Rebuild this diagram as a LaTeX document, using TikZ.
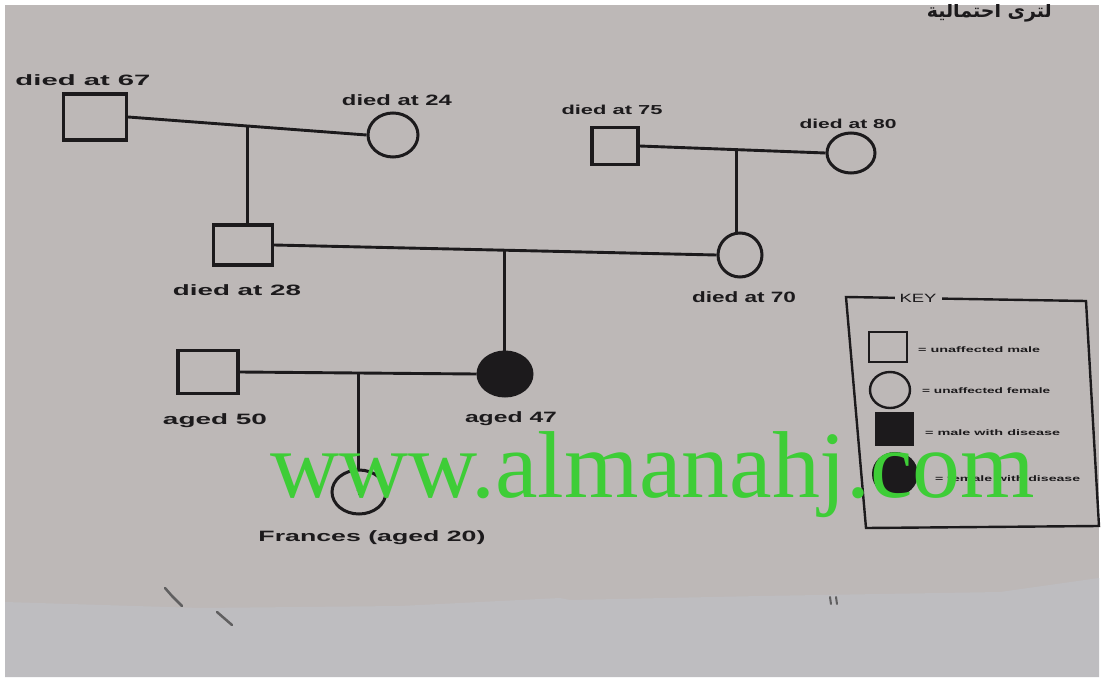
\documentclass[tikz,border=0pt]{standalone}
\usepackage{fontspec}
\setmainfont{Liberation Sans}
\newfontfamily\wmfont{Liberation Serif}
\newfontfamily\arabicfont[Script=Arabic]{DejaVu Sans}
\TeXXeTstate=1
\usetikzlibrary{calc,shapes.geometric}
\definecolor{paper}{RGB}{189,184,183}
\definecolor{paperlow}{RGB}{190,189,192}
\definecolor{ink}{RGB}{28,26,28}
\definecolor{wm}{RGB}{62,205,55}
\newcommand\lbl[2]{\resizebox{#1}{\height}{\bfseries #2}}
\begin{document}
\begin{tikzpicture}[x=1pt,y=-1pt,
  male/.style={draw=ink,line width=3.2pt,rectangle,inner sep=0pt},
  female/.style={draw=ink,line width=3pt,ellipse,inner sep=0pt},
  affected/.style={fill=ink},
  tag/.style={text=ink,inner sep=0pt,font=\fontsize{15}{18}\selectfont},
  smalltag/.style={text=ink,inner sep=0pt,font=\fontsize{13}{16}\selectfont},
  keytag/.style={text=ink,inner sep=0pt,anchor=west,font=\fontsize{8}{10}\selectfont},
  link/.style={draw=ink,line width=2.9pt}]
% background
\fill[white] (0,0) rectangle (1104,682);
\fill[paper] (5,5) rectangle (1099,677);
\fill[paperlow] (5,602) -- (200,608) -- (400,606) -- (560,598) -- (570,600) -- (760,596) -- (1000,592) -- (1099,578) -- (1099,677) -- (5,677) -- cycle;
\draw[ink!70,line width=2.5pt,line cap=round] (165,588) -- (172,596) -- (182,606);
\draw[ink!70,line width=2.5pt,line cap=round] (217,612) -- (232,625);
\draw[ink!70,line width=2pt,line cap=round] (830,597) -- (831,604) (836,597) -- (837,604);
% arabic fragment at the top
\begin{scope}
\clip (5,5) rectangle (1099,677);
\node[text=ink,anchor=east,inner sep=0pt,font=\arabicfont\bfseries\fontsize{19}{22}\selectfont] (ar) at (1052,13) {\beginR لترى احتمالية\endR};
\end{scope}
% people
\node[male,minimum width=63pt,minimum height=46pt] (gp1) at (95,117) {};
\node[female,minimum width=50pt,minimum height=44pt] (gm1) at (393,135) {};
\node[male,minimum width=46pt,minimum height=37pt] (gp2) at (615,146) {};
\node[female,minimum width=48pt,minimum height=40pt] (gm2) at (851,153) {};
\node[male,minimum width=59pt,minimum height=40pt] (fa) at (243,245) {};
\node[female,minimum width=44pt,minimum height=44pt] (mo) at (740,255) {};
\node[male,minimum width=60pt,minimum height=43pt] (hu) at (208,372) {};
\node[female,affected,minimum width=54pt,minimum height=44pt] (af) at (505,374) {};
\node[female,minimum width=54pt,minimum height=44pt,font=\bfseries\small,text=ink] (fr) at (359,492) {?};
% marriages and descent
\draw[link] (gp1.east) -- coordinate[pos=0.5] (m1) (gm1.west);
\draw[link] (m1) -- (m1 |- fa.north);
\draw[link] (gp2.east) -- coordinate[pos=0.52] (m2) (gm2.west);
\draw[link] (m2) -- (m2 |- mo.north);
\draw[link] (fa.east) -- coordinate[pos=0.52] (m3) (mo.west);
\draw[link] (m3) -- (m3 |- af.north);
\draw[link] (hu.east) -- coordinate[pos=0.5] (m4) (af.west);
\draw[link] (m4) -- (m4 |- fr.north);
% labels
\node[tag] (l67) at (83,80) {\lbl{135pt}{died at 67}};
\node[tag] (l24) at (397,100) {\lbl{110pt}{died at 24}};
\node[smalltag] (l75) at (612,110) {\lbl{101pt}{died at 75}};
\node[smalltag] (l80) at (848,124) {\lbl{97pt}{died at 80}};
\node[tag] (l28) at (237,290) {\lbl{128pt}{died at 28}};
\node[tag] (l70) at (744,297) {\lbl{104pt}{died at 70}};
\node[tag] (l50) at (215,421) {\lbl{104pt}{aged 50}};
\node[tag] (l47) at (511,419) {\lbl{92pt}{aged 47}};
\node[tag] (lfr) at (372,538) {\lbl{227pt}{Frances (aged 20)}};
% key
\draw[ink,line width=2.4pt] (846,297) -- (1086,301) -- (1099,526) -- (866,528) -- cycle;
\node[fill=paper,text=ink,inner xsep=5pt,inner ysep=1pt,font=\fontsize{12}{14}\selectfont] (keyt) at (918,298) {\resizebox{37pt}{\height}{KEY}};
\node[male,line width=2.4pt,minimum width=38pt,minimum height=30pt] (k1) at (888,347) {};
\node[female,line width=2.4pt,minimum width=40pt,minimum height=36pt] (k2) at (890,390) {};
\node[male,affected,line width=2pt,minimum width=37pt,minimum height=32pt] (k3) at (894,429) {};
\node[female,affected,line width=2pt,minimum width=44pt,minimum height=42pt] (k4) at (895,474) {};
\node[keytag] (t1) at (918,350) {\lbl{122pt}{= unaffected male}};
\node[keytag] (t2) at (922,391) {\lbl{128pt}{= unaffected female}};
\node[keytag] (t3) at (925,433) {\lbl{135pt}{= male with disease}};
\node[keytag] (t4) at (935,479) {\lbl{145pt}{= female with disease}};
% watermark
\node[text=wm,anchor=base west,inner sep=0pt,font=\wmfont\fontsize{95}{100}\selectfont] (wmk) at (270,497) {\resizebox{765pt}{\height}{www.almanahj.com}};
\useasboundingbox (0,0) rectangle (1104,682);
\end{tikzpicture}
\end{document}
